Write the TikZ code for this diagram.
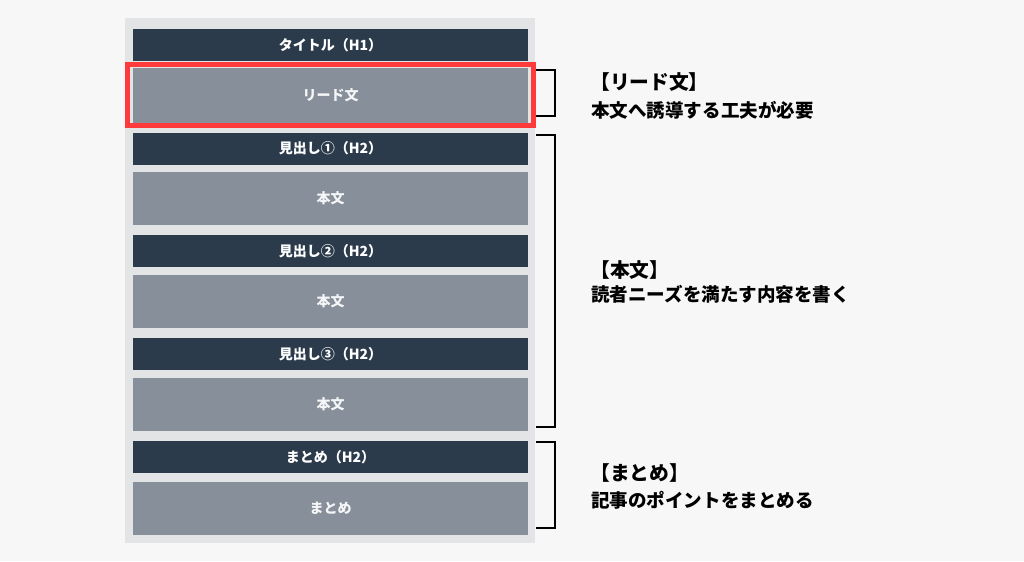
\documentclass[tikz,border=0pt]{standalone}
\usepackage{fontspec}
\usepackage{tikz}
\newfontfamily\jp{Noto Sans CJK JP}
\definecolor{pagebg}{HTML}{F7F7F7}
\definecolor{panel}{HTML}{E3E4E6}
\definecolor{headdark}{HTML}{2C3B4C}
\definecolor{bodygray}{HTML}{87909A}
\definecolor{markred}{HTML}{FF3A3A}
\newdimen\pxu \pxu=0.75pt

\begin{document}
\begin{tikzpicture}[x=0.75pt, y=-0.75pt,
  hbox/.style={rectangle, fill=headdark, text=white, inner sep=0pt, minimum width=395\pxu, minimum height=32\pxu, font=\jp\bfseries\fontsize{10.5pt}{12pt}\selectfont},
  bbox/.style={rectangle, fill=bodygray, text=white!92!bodygray, inner sep=0pt, minimum width=395\pxu, minimum height=53\pxu, font=\jp\bfseries\fontsize{10.5pt}{12pt}\selectfont},
  notehead/.style={anchor=west, inner sep=0pt, font=\jp\bfseries\fontsize{14.8pt}{16pt}\selectfont},
  notetext/.style={anchor=west, inner sep=0pt, font=\jp\bfseries\fontsize{13.9pt}{16pt}\selectfont},
  brace/.style={draw=black, line width=2\pxu}]
\fill[pagebg] (0,0) rectangle (1024,561);
\useasboundingbox (0,0) rectangle (1024,561);
\fill[panel] (125,18) rectangle (535,543);

% left column
\node[hbox] (title) at (330.5,45) {タイトル（H1）};
\node[bbox, minimum height=55\pxu] (lead) at (330.5,95.5) {リード文};
\node[hbox] (head1) at (330.5,148.5) {見出し①（H2）};
\node[bbox] (body1) at (330.5,198.5) {本文};
\node[hbox] (head2) at (330.5,251) {見出し②（H2）};
\node[bbox] (body2) at (330.5,301.5) {本文};
\node[hbox] (head3) at (330.5,354) {見出し③（H2）};
\node[bbox] (body3) at (330.5,404.5) {本文};
\node[hbox] (head4) at (330.5,457) {まとめ（H2）};
\node[bbox] (body4) at (330.5,508) {まとめ};

\draw[markred, line width=5\pxu] (127.5,64.5) rectangle (533.5,125.5);

% brackets
\draw[brace] (536,70) -| (555,116) -- (536,116);
\draw[brace] (536,135) -| (555,427) -- (536,427);
\draw[brace] (536,442) -| (555,528) -- (536,528);

% notes
\node[notehead] (leadhead) at (590,82) {【リード文】};
\node[notetext] (leadnote) at (591,110) {本文へ誘導する工夫が必要};
\node[notehead] (bodyhead) at (590,270) {【本文】};
\node[notetext] (bodynote) at (591,294) {読者ニーズを満たす内容を書く};
\node[notehead] (sumhead) at (590,473) {【まとめ】};
\node[notetext] (sumnote) at (591,500) {記事のポイントをまとめる};
\end{tikzpicture}
\end{document}
